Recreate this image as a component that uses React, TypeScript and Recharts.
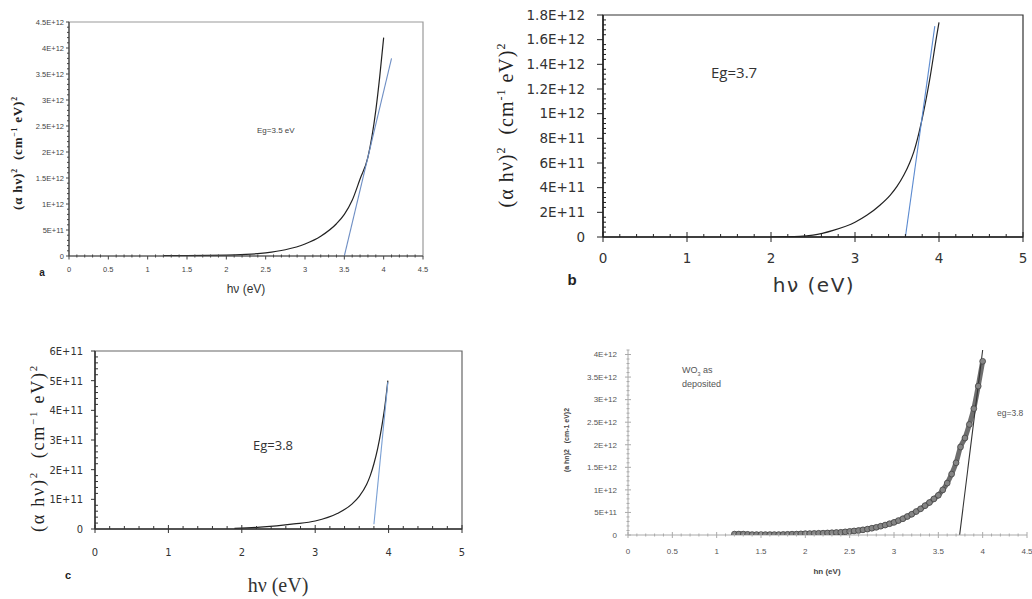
import React from "react";
import { LineChart, Line, XAxis, YAxis, ReferenceArea } from "recharts";

// (a) hv in eV, (alpha hv)^2
const hvA = [1.2, 1.5, 2.0, 2.25, 2.5, 2.75, 3.0, 3.2, 3.4, 3.5, 3.6, 3.7, 3.8, 3.9, 3.95, 4.0];
const absA = [0.01e12, 0.01e12, 0.015e12, 0.03e12, 0.06e12, 0.12e12, 0.23e12, 0.38e12, 0.62e12, 0.8e12, 1.07e12, 1.48e12, 1.9e12, 2.8e12, 3.45e12, 4.2e12];
const fitHvA = [3.5, 4.1];
const fitAbsA = [0, 3.8e12];

// (b)
const hvB = [2.0, 2.34, 2.5, 2.74, 3.0, 3.14, 3.3, 3.42, 3.5, 3.58, 3.65, 3.7, 3.79, 3.89, 3.97, 4.0];
const absB = [0, 0.005e12, 0.015e12, 0.054e12, 0.12e12, 0.176e12, 0.26e12, 0.34e12, 0.41e12, 0.5e12, 0.6e12, 0.69e12, 0.93e12, 1.28e12, 1.62e12, 1.74e12];
const fitHvB = [3.6, 3.95];
const fitAbsB = [0, 1.71e12];

// (c)
const hvC = [1.9, 2.25, 2.71, 3.0, 3.3, 3.5, 3.6, 3.7, 3.75, 3.8, 3.85, 3.9, 3.95, 3.99];
const absC = [0.02e11, 0.06e11, 0.17e11, 0.27e11, 0.52e11, 0.84e11, 1.1e11, 1.5e11, 1.8e11, 2.2e11, 2.7e11, 3.35e11, 4.15e11, 5.0e11];
const fitHvC = [3.8, 3.99];
const fitAbsC = [0.16e11, 4.95e11];

// (d) WO3 as deposited, measured points
const hvD = [
  1.2, 1.25, 1.3, 1.35, 1.4, 1.45, 1.5, 1.55, 1.6, 1.65, 1.7, 1.75, 1.8, 1.85, 1.9, 1.95,
  2.0, 2.05, 2.1, 2.15, 2.2, 2.25, 2.3, 2.35, 2.4, 2.45, 2.5, 2.55, 2.6, 2.65, 2.7, 2.75,
  2.8, 2.85, 2.9, 2.95, 3.0, 3.05, 3.1, 3.15, 3.2, 3.25, 3.3, 3.35, 3.4, 3.45, 3.5, 3.55,
  3.6, 3.65, 3.7, 3.75, 3.8, 3.85, 3.9, 3.95, 4.0,
];
const absD = [
  0.02e12, 0.02e12, 0.02e12, 0.015e12, 0.01e12, 0.01e12, 0.01e12, 0.01e12, 0.01e12, 0.01e12, 0.01e12, 0.012e12, 0.015e12, 0.018e12, 0.02e12, 0.025e12,
  0.03e12, 0.032e12, 0.035e12, 0.038e12, 0.04e12, 0.045e12, 0.05e12, 0.055e12, 0.06e12, 0.07e12, 0.08e12, 0.09e12, 0.1e12, 0.115e12, 0.13e12, 0.15e12,
  0.17e12, 0.195e12, 0.22e12, 0.25e12, 0.28e12, 0.32e12, 0.36e12, 0.41e12, 0.46e12, 0.52e12, 0.58e12, 0.65e12, 0.72e12, 0.8e12, 0.88e12, 1.0e12,
  1.15e12, 1.35e12, 1.6e12, 1.95e12, 2.15e12, 2.45e12, 2.8e12, 3.3e12, 3.85e12,
];
const fitHvD = [3.74, 4.0];
const fitAbsD = [0, 4.1e12];

const ticksHalf = [0, 0.5, 1, 1.5, 2, 2.5, 3, 3.5, 4, 4.5];
const ticksUnit = [0, 1, 2, 3, 4, 5];
const yTicksA = [0, 0.5e12, 1e12, 1.5e12, 2e12, 2.5e12, 3e12, 3.5e12, 4e12, 4.5e12];
const yTicksB = [0, 2e11, 4e11, 6e11, 8e11, 1e12, 1.2e12, 1.4e12, 1.6e12, 1.8e12];
const yTicksC = [0, 1e11, 2e11, 3e11, 4e11, 5e11, 6e11];
const yTicksD = [0, 0.5e12, 1e12, 1.5e12, 2e12, 2.5e12, 3e12, 3.5e12, 4e12];

type Pt = { x: number; y: number };
const pts = (xs: number[], ys: number[]): Pt[] => xs.map((x, i) => ({ x, y: ys[i] }));
const steps = (max: number, step: number) => {
  const out: number[] = [];
  for (let i = 0; i * step <= max + 1e-9; i++) out.push(i * step);
  return out;
};

const sci = (v: number) => {
  if (v === 0) return "0";
  const e = Math.floor(Math.log10(v) + 1e-9);
  const m = +(v / Math.pow(10, e)).toFixed(2);
  return `${m}E+${e}`;
};
const plain = (v: number) => String(+v.toFixed(2));

type Font = { fontSize: number; fontFamily: string; fill: string };
// tick spec: [inside, outside] lengths for major and minor, label offset from axis
type TickSpec = { major: [number, number]; minor: [number, number]; off: number };

const isMajor = (v: number, majors: number[]) => majors.some((m) => Math.abs(m - v) <= Math.abs(m) * 1e-6 + 1e-9);

function makeXTick(majors: number[], spec: TickSpec, font: Font, color: string) {
  return (props: any) => {
    const { x, y, payload } = props;
    const maj = isMajor(payload.value, majors);
    const [inn, out] = maj ? spec.major : spec.minor;
    return (
      <g>
        <line x1={x} x2={x} y1={y - inn} y2={y + out} stroke={color} strokeWidth={1} />
        {maj && (
          <text x={x} y={y + spec.off} dy="0.71em" textAnchor="middle" {...font}>
            {plain(payload.value)}
          </text>
        )}
      </g>
    );
  };
}

function makeYTick(majors: number[], spec: TickSpec, font: Font, color: string) {
  return (props: any) => {
    const { x, y, payload } = props;
    const maj = isMajor(payload.value, majors);
    const [inn, out] = maj ? spec.major : spec.minor;
    return (
      <g>
        <line x1={x - out} x2={x + inn} y1={y} y2={y} stroke={color} strokeWidth={1} />
        {maj && (
          <text x={x - spec.off} y={y} dy="0.355em" textAnchor="end" {...font}>
            {sci(payload.value)}
          </text>
        )}
      </g>
    );
  };
}

type PanelProps = {
  left: number;
  top: number;
  width: number;
  height: number;
  mt: number;
  mr: number;
  yWidth: number;
  xHeight: number;
  xMax: number;
  xTicks: number[];
  xMinor: number[];
  yMax: number;
  yTicks: number[];
  yMinor: number[];
  font: Font;
  xSpec: TickSpec;
  ySpec: TickSpec;
  axis: string;
  axisWidth: number;
  frame?: string;
  curve: Pt[];
  curveStroke: string;
  curveWidth: number;
  dots?: boolean;
  fit: Pt[];
  fitStroke: string;
};

function Panel(p: PanelProps) {
  const xAll = [...p.xMinor.filter((v) => !isMajor(v, p.xTicks)), ...p.xTicks].sort((a, b) => a - b);
  const yAll = [...p.yMinor.filter((v) => !isMajor(v, p.yTicks)), ...p.yTicks].sort((a, b) => a - b);
  return (
    <div style={{ position: "absolute", left: p.left, top: p.top }}>
      <LineChart width={p.width} height={p.height} margin={{ top: p.mt, right: p.mr, left: 0, bottom: 0 }}>
        <XAxis
          type="number"
          dataKey="x"
          domain={[0, p.xMax]}
          ticks={xAll}
          interval={0}
          allowDataOverflow
          height={p.xHeight}
          tickSize={0}
          tickMargin={0}
          tickLine={false}
          axisLine={{ stroke: p.axis, strokeWidth: p.axisWidth }}
          tick={makeXTick(p.xTicks, p.xSpec, p.font, p.axis)}
        />
        <YAxis
          type="number"
          domain={[0, p.yMax]}
          ticks={yAll}
          interval={0}
          allowDataOverflow
          width={p.yWidth}
          tickSize={0}
          tickMargin={0}
          tickLine={false}
          axisLine={{ stroke: p.axis, strokeWidth: p.axisWidth }}
          tick={makeYTick(p.yTicks, p.ySpec, p.font, p.axis)}
        />
        {p.frame && (
          <ReferenceArea x1={0} x2={p.xMax} y1={0} y2={p.yMax} fill="none" stroke={p.frame} strokeWidth={1.2} />
        )}
        <Line
          data={p.curve}
          dataKey="y"
          type="monotone"
          stroke={p.curveStroke}
          strokeWidth={p.curveWidth}
          dot={p.dots ? { r: 2.9, fill: "#858585", stroke: "#444", strokeWidth: 0.8 } : false}
          isAnimationActive={false}
        />
        <Line data={p.fit} dataKey="y" type="linear" stroke={p.fitStroke} strokeWidth={1.1} dot={false} isAnimationActive={false} />
      </LineChart>
    </div>
  );
}

function Txt(props: {
  x: number;
  y: number;
  size: number;
  family?: string;
  color?: string;
  bold?: boolean;
  center?: boolean;
  rotate?: boolean;
  spacing?: number;
  children: React.ReactNode;
}) {
  const { x, y, size, family = "'Liberation Sans', Arial, sans-serif", color = "#222", bold, center, rotate, spacing } = props;
  const tr = `translate(${center || rotate ? "-50%" : "0"},-50%)${rotate ? " rotate(-90deg)" : ""}`;
  return (
    <div
      style={{
        position: "absolute",
        left: x,
        top: y,
        transform: tr,
        fontSize: size,
        fontFamily: family,
        color,
        fontWeight: bold ? 700 : 400,
        whiteSpace: "nowrap",
        lineHeight: 1.1,
        letterSpacing: spacing ?? 0,
      }}
    >
      {props.children}
    </div>
  );
}

const sup = (s: string) => <sup style={{ fontSize: "0.6em" }}>{s}</sup>;
const serif = "'Liberation Serif', 'DejaVu Serif', serif";

export default function App() {
  return (
    <div style={{ position: "absolute", left: 0, top: 0, width: 1032, height: 599, background: "#fff", overflow: "hidden" }}>
      <Panel
        left={0} top={0} width={440} height={290} mt={22} mr={17} yWidth={69} xHeight={34}
        xMax={4.5} xTicks={ticksHalf} xMinor={steps(4.5, 0.1)}
        yMax={4.5e12} yTicks={yTicksA} yMinor={steps(4.5e12, 1e11)}
        font={{ fontSize: 7.5, fontFamily: "'Liberation Sans', Arial, sans-serif", fill: "#444" }}
        xSpec={{ major: [0, 3.5], minor: [1.5, 1.5], off: 11 }}
        ySpec={{ major: [0, 3], minor: [0, 2], off: 5 }}
        axis="#444" axisWidth={1.2} frame="#9a9a9a"
        curve={pts(hvA, absA)} curveStroke="#222" curveWidth={1.2}
        fit={pts(fitHvA, fitAbsA)} fitStroke="#6f8fc4"
      />
      <Txt x={18} y={153} size={13} family={serif} bold rotate spacing={0.8}>
        (α hν){sup("2")}&nbsp;&nbsp;(cm{sup("−1")}&nbsp;eV){sup("2")}
      </Txt>
      <Txt x={257} y={131} size={8} color="#444">Eg=3.5 eV</Txt>
      <Txt x={246} y={290} size={12} color="#333" center>hν (eV)</Txt>
      <Txt x={42} y={272} size={10} bold center>a</Txt>

      <Panel
        left={490} top={0} width={542} height={270} mt={15} mr={9} yWidth={113} xHeight={33}
        xMax={5} xTicks={ticksUnit} xMinor={steps(5, 0.2)}
        yMax={1.8e12} yTicks={yTicksB} yMinor={steps(1.8e12, 4e10)}
        font={{ fontSize: 13.5, fontFamily: "'DejaVu Sans', Verdana, sans-serif", fill: "#333" }}
        xSpec={{ major: [5, 5], minor: [3, 0], off: 16 }}
        ySpec={{ major: [0, 6], minor: [3, 0], off: 18 }}
        axis="#222" axisWidth={1.5} frame="#333"
        curve={pts(hvB, absB)} curveStroke="#222" curveWidth={1.2}
        fit={pts(fitHvB, fitAbsB)} fitStroke="#5b8ad0"
      />
      <Txt x={506} y={125} size={20} family={serif} rotate spacing={1}>
        (α hν){sup("2")}&nbsp;&nbsp;(cm{sup("-1")}&nbsp;eV){sup("2")}
      </Txt>
      <Txt x={711} y={72} size={15} family="'Open Sans', sans-serif" color="#333">Eg=3.7</Txt>
      <Txt x={814} y={285} size={20} family="'DejaVu Sans', Verdana, sans-serif" color="#333" spacing={1.5} center>
        hν (eV)
      </Txt>
      <Txt x={572} y={280} size={15} bold center>b</Txt>

      <Panel
        left={0} top={320} width={480} height={260} mt={31} mr={18} yWidth={95} xHeight={51}
        xMax={5} xTicks={ticksUnit} xMinor={steps(5, 0.2)}
        yMax={6e11} yTicks={yTicksC} yMinor={steps(6e11, 2e10)}
        font={{ fontSize: 11, fontFamily: "'Liberation Sans Narrow', 'DejaVu Sans Condensed', 'Liberation Sans', sans-serif", fill: "#333" }}
        xSpec={{ major: [4, 4], minor: [3, 0], off: 19 }}
        ySpec={{ major: [0, 4], minor: [3, 0], off: 12 }}
        axis="#333" axisWidth={1.5} frame="#666"
        curve={pts(hvC, absC)} curveStroke="#222" curveWidth={1.2}
        fit={pts(fitHvC, fitAbsC)} fitStroke="#7aa0d4"
      />
      <Txt x={38} y={448} size={18} family={serif} rotate spacing={1.8}>
        (α hν){sup("2")}&nbsp;&nbsp;(cm{sup("−1")}&nbsp;eV){sup("2")}
      </Txt>
      <Txt x={253} y={445} size={13} family="'Open Sans', sans-serif" color="#333">Eg=3.8</Txt>
      <Txt x={278} y={585} size={20} family={serif} color="#333" center>hν (eV)</Txt>
      <Txt x={68} y={575} size={11} bold center>c</Txt>

      <Panel
        left={560} top={330} width={472} height={230} mt={20} mr={5} yWidth={68} xHeight={25}
        xMax={4.5} xTicks={ticksHalf} xMinor={steps(4.5, 0.1)}
        yMax={4.1e12} yTicks={yTicksD} yMinor={steps(4.1e12, 1e11)}
        font={{ fontSize: 8, fontFamily: "'Liberation Sans', Arial, sans-serif", fill: "#555" }}
        xSpec={{ major: [3, 3], minor: [1.5, 1.5], off: 13 }}
        ySpec={{ major: [3, 3], minor: [1.5, 1.5], off: 11 }}
        axis="#aaa" axisWidth={1}
        curve={pts(hvD, absD)} curveStroke="#6e6e6e" curveWidth={5} dots
        fit={pts(fitHvD, fitAbsD)} fitStroke="#333"
      />
      <Txt x={682} y={372} size={9} color="#555">
        WO<sub style={{ fontSize: "0.6em" }}>3</sub> as
      </Txt>
      <Txt x={682} y={385} size={9} color="#555">deposited</Txt>
      <Txt x={997} y={414} size={8.5} color="#555">eg=3.8</Txt>
      <Txt x={567} y={440} size={7} color="#444" bold rotate>
        (a hn)2 &nbsp;&nbsp;(cm-1 eV)2
      </Txt>
      <Txt x={827} y={572} size={8} color="#444" bold center>hn (eV)</Txt>
    </div>
  );
}
